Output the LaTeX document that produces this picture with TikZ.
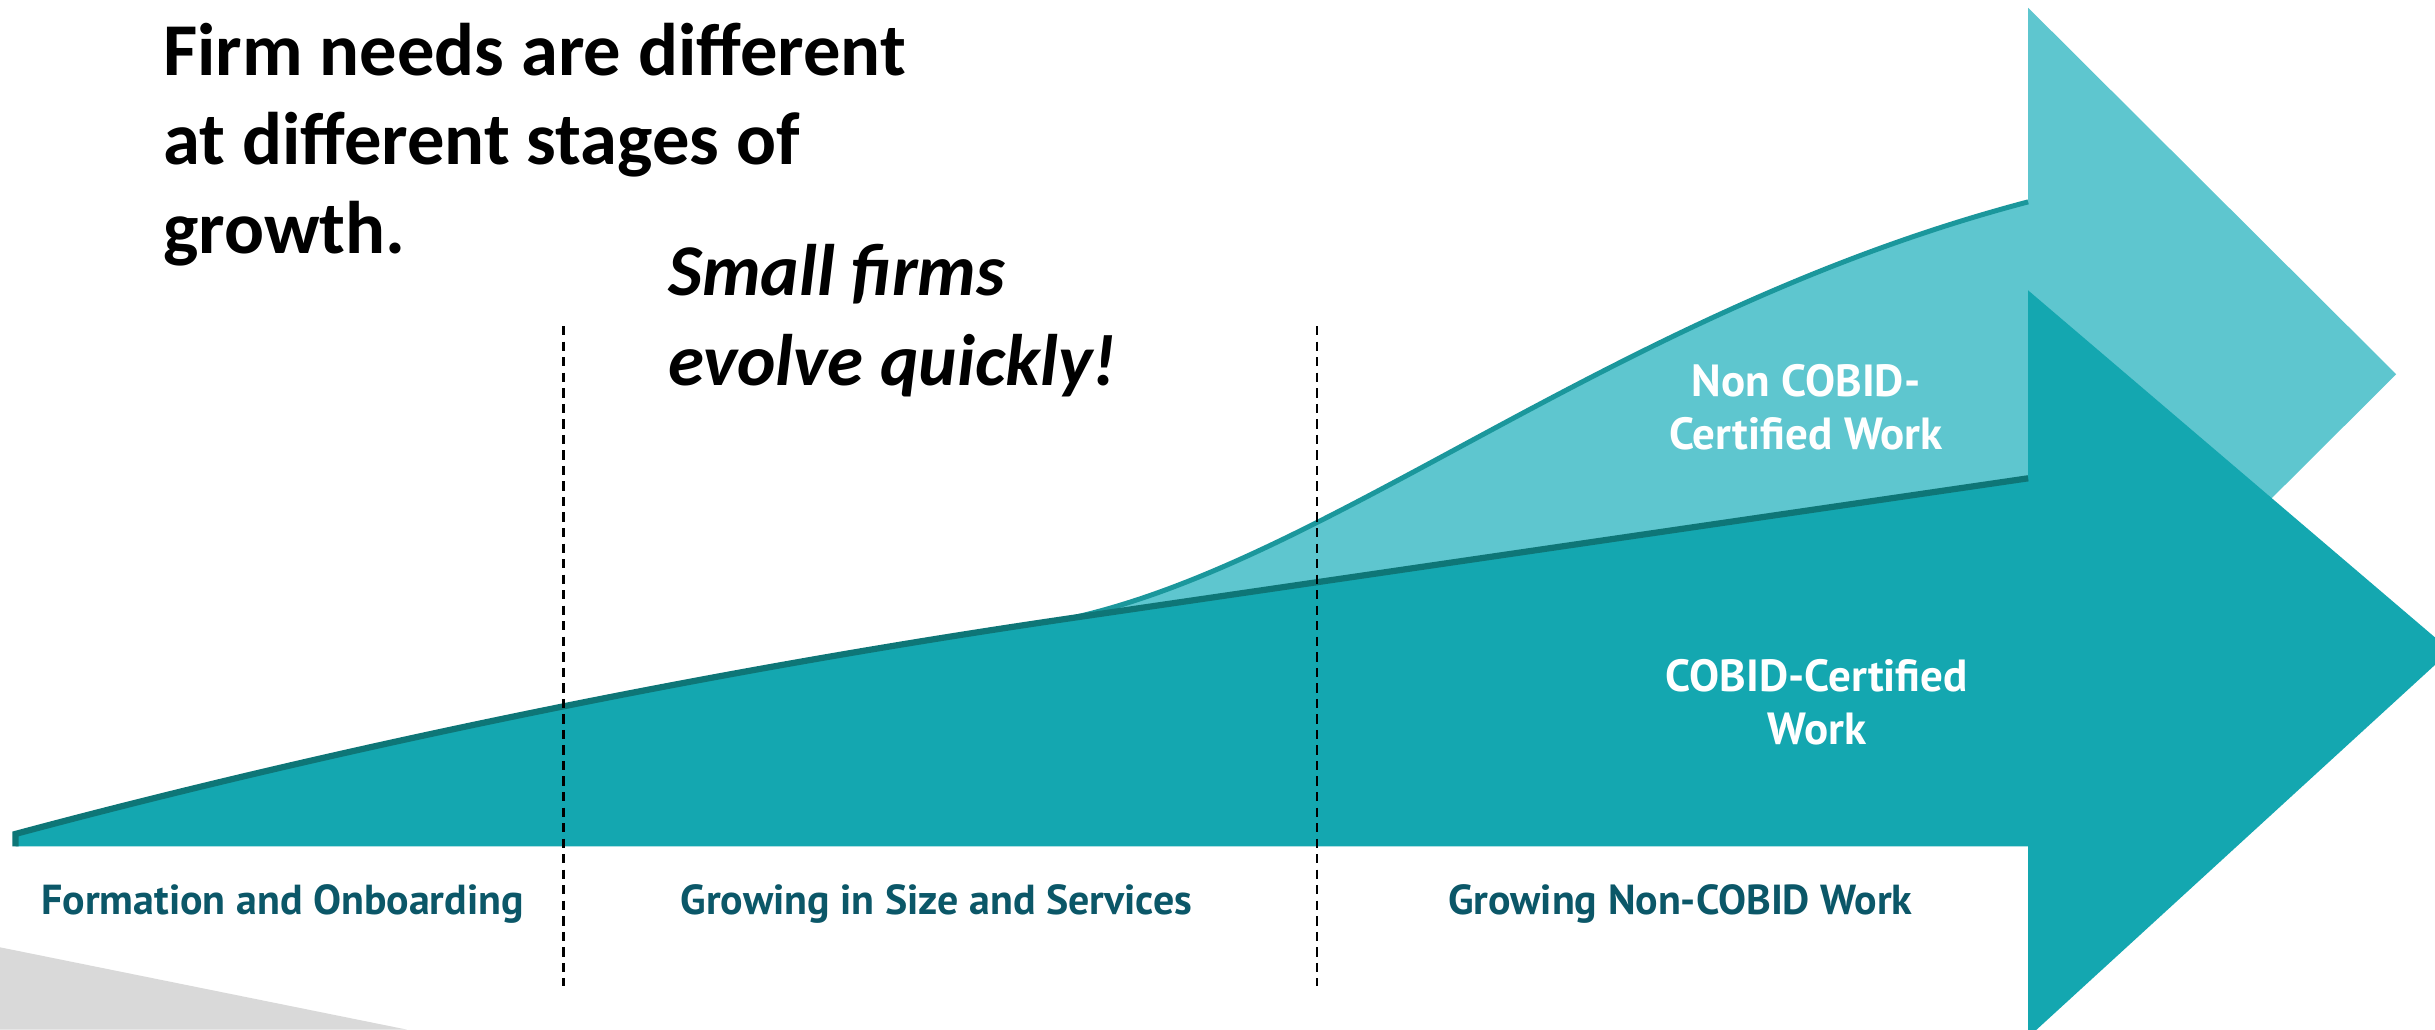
\documentclass[tikz,border=0pt]{standalone}
\usepackage{fontspec}
\setmainfont{Carlito}
\newfontfamily\labelfont{PT Sans}
\definecolor{darkteal}{HTML}{14A7B0}
\definecolor{lightteal}{HTML}{5EC6CF}
\definecolor{darkedge}{HTML}{0E7677}
\definecolor{lightedge}{HTML}{1B979C}
\definecolor{labelblue}{HTML}{0B5768}
\definecolor{wedgegray}{HTML}{D9D9D9}

\begin{document}
\begin{tikzpicture}[x=1pt,y=-1pt,
  stage/.style={font=\labelfont\bfseries\fontsize{27}{32}\selectfont, text=labelblue, anchor=base, inner sep=0},
  inlabel/.style={font=\labelfont\bfseries\fontsize{29}{34}\selectfont, text=white, align=center, inner sep=0},
  divider/.style={black, line width=1.6pt, dash pattern=on 6pt off 4pt},
  headline/.style={font=\bfseries\fontsize{48}{57}\selectfont, align=left, inner sep=0, anchor=north west},
  slogan/.style={font=\bfseries\itshape\fontsize{47}{58}\selectfont, align=left, inner sep=0, anchor=north west},
]
\useasboundingbox (0,0) rectangle (1568,663);
\clip (0,0) rectangle (1568,663);
\fill[white] (0,0) rectangle (1568,663);

% grey wedge in the lower left corner
\fill[wedgegray] (0,610) -- (262,663) -- (0,663) -- cycle;

% key points of the two arrows
\coordinate (start) at (10,537);
\coordinate (foot) at (10,545);
\coordinate (kink) at (690,398);
\coordinate (lineend) at (1306,308);
\coordinate (curveend) at (1306,130);

% back arrow: non COBID-certified work
\fill[lightteal] (kink) .. controls (860,360) and (1040,200) .. (curveend)
  -- (1306,5) -- (1543,241) -- (1306,477) -- (lineend) -- cycle;
\draw[lightedge, line width=3.2pt] (kink) .. controls (860,360) and (1040,200) .. (curveend);

% front arrow: COBID-certified work
\fill[darkteal] (foot) -- (start) .. controls (200,486) and (440,434.5) .. (kink)
  -- (lineend) -- (1306,187) -- (1578,419) -- (1306,668) -- (1306,545) -- cycle;
\draw[darkedge, line width=4pt] (foot) -- (start) .. controls (200,486) and (440,434.5) .. (kink) -- (lineend);

% stage dividers
\coordinate (d1top) at (363,210);
\coordinate (d1bot) at (363,635);
\coordinate (d2top) at (848,210);
\coordinate (d2bot) at (848,635);
\draw[divider] (d1top) -- (d1bot);
\draw[divider] (d2top) -- (d2bot);

% headings
\node[headline] (title) at (105,15) {Firm needs are different\\at different stages of\\growth.};
\node[slogan] (evolve) at (430,157) {Small firms\\evolve quickly!};

% labels inside the arrows
\node[inlabel] (noncobid) at (1163,262) {Non COBID-\\Certified Work};
\node[inlabel] (cobid) at (1170,452) {COBID-Certified\\Work};

% stage names
\node[stage] (stage1) at (182,589) {Formation and Onboarding};
\node[stage] (stage2) at (603,589) {Growing in Size and Services};
\node[stage] (stage3) at (1082,589) {Growing Non-COBID Work};
\end{tikzpicture}
\end{document}
